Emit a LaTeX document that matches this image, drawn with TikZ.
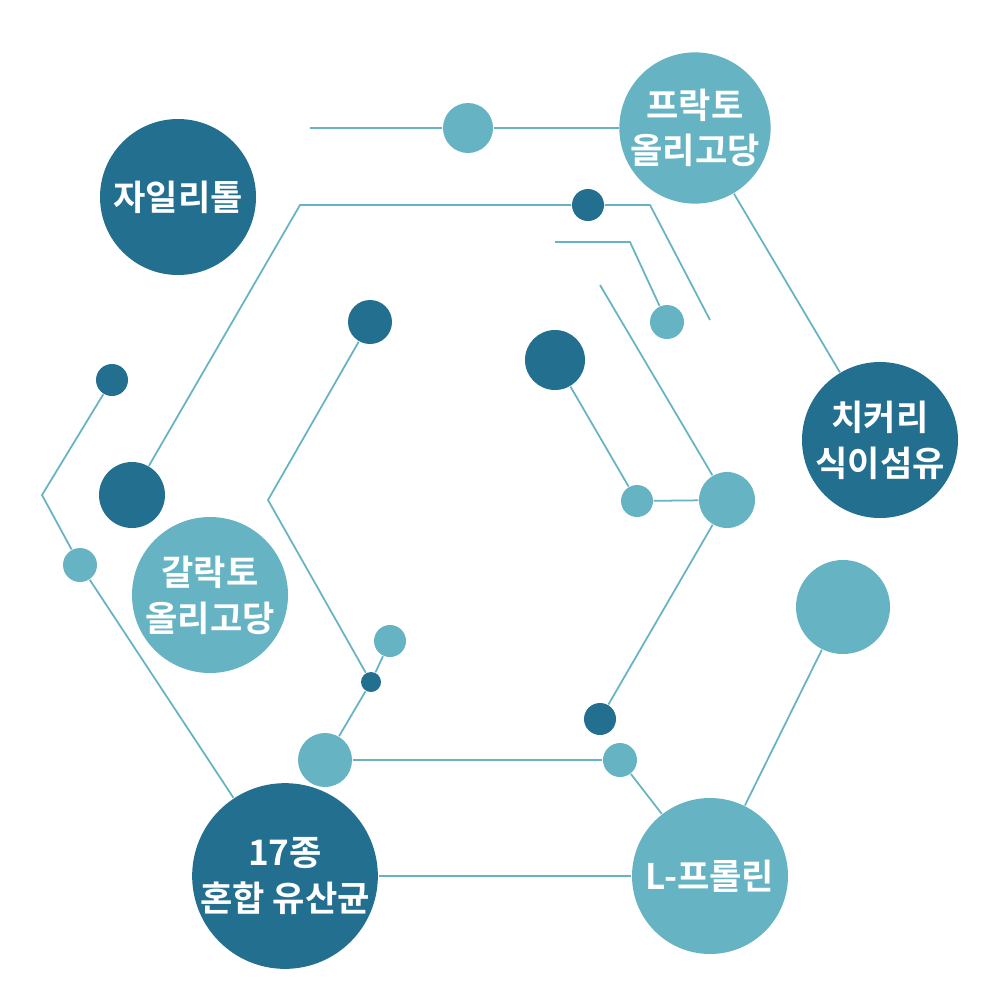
\documentclass[tikz,border=0pt]{standalone}
\usepackage{fontspec}
\newfontfamily\krfont{Noto Sans CJK KR Bold}
\definecolor{deepteal}{HTML}{236F8F}
\definecolor{lightteal}{HTML}{66B3C3}
\begin{document}
\begin{tikzpicture}[x=0.01cm, y=-0.01cm,
    dot/.style={circle, inner sep=0pt, minimum size={#1*0.01cm}},
    darkdot/.style={dot=#1, fill=deepteal},
    lightdot/.style={dot=#1, fill=lightteal},
    caption/.style={text=white, font=\krfont\fontsize{10}{13}\selectfont, align=center},
    link/.style={draw=lightteal, line width=0.5pt}]
			\useasboundingbox (0, 0) rectangle (1000, 1000);
			% big circles
			\node[darkdot=156, caption] (xylitol) at (178, 197) {자일리톨};
			\node[lightdot=150, caption] (fructo) at (695, 128) {프락토\\올리고당};
			\node[darkdot=156, caption] (chicory) at (880, 440) {치커리\\식이섬유};
			\node[lightdot=156, caption] (galacto) at (210, 595) {갈락토\\올리고당};
			\node[darkdot=156, caption] (lacto) at (285, 876) {17종\\혼합 유산균};
			\node[lightdot=156, caption] (proline) at (710, 876) {L-프롤린};
			% small circles
			\node[lightdot=50] (s1) at (468, 128) {};
			\node[darkdot=32] (s2) at (588, 205) {};
			\node[lightdot=34] (s3) at (667, 322) {};
			\node[darkdot=44] (s4) at (370, 322) {};
			\node[darkdot=60] (s5) at (555, 360) {};
			\node[darkdot=32] (s6) at (112, 380) {};
			\node[darkdot=66] (s7) at (132, 495) {};
			\node[lightdot=34] (s8) at (80, 565) {};
			\node[lightdot=56] (s9) at (727, 500) {};
			\node[lightdot=32] (s10) at (637, 501) {};
			\node[lightdot=94] (s11) at (843, 607) {};
			\node[lightdot=32] (s12) at (390, 641) {};
			\node[darkdot=20] (s13) at (371, 682) {};
			\node[darkdot=32] (s14) at (600, 719) {};
			\node[lightdot=54] (s15) at (325, 760) {};
			\node[lightdot=34] (s16) at (620, 760) {};
			% free ends and corners
			\coordinate (a1) at (310, 128);
			\coordinate (a2) at (300, 205);
			\coordinate (a3) at (650, 205);
			\coordinate (a4) at (710, 320);
			\coordinate (a5) at (555, 242);
			\coordinate (a6) at (630, 242);
			\coordinate (a7) at (600, 285);
			\coordinate (a8) at (42, 495);
			\coordinate (a9) at (268, 500);
			% connectors
			\draw[link] (a1) -- (s1);
			\draw[link] (s1) -- (fructo);
			\draw[link] (s7) -- (a2) -- (s2);
			\draw[link] (s2) -- (a3) -- (a4);
			\draw[link] (a5) -- (a6) -- (s3);
			\draw[link] (a7) -- (s9);
			\draw[link] (fructo) -- (chicory);
			\draw[link] (s6) -- (a8) -- (s8);
			\draw[link] (s8) -- (lacto);
			\draw[link] (s4) -- (a9) -- (s13);
			\draw[link] (s13) -- (s12);
			\draw[link] (s13) -- (s15);
			\draw[link] (s15) -- (s16);
			\draw[link] (s16) -- (proline);
			\draw[link] (s5) -- (s10);
			\draw[link] (s10) -- (s9);
			\draw[link] (s9) -- (s14);
			\draw[link] (s11) -- (proline);
			\draw[link] (lacto) -- (proline);
		\end{tikzpicture}
\end{document}
